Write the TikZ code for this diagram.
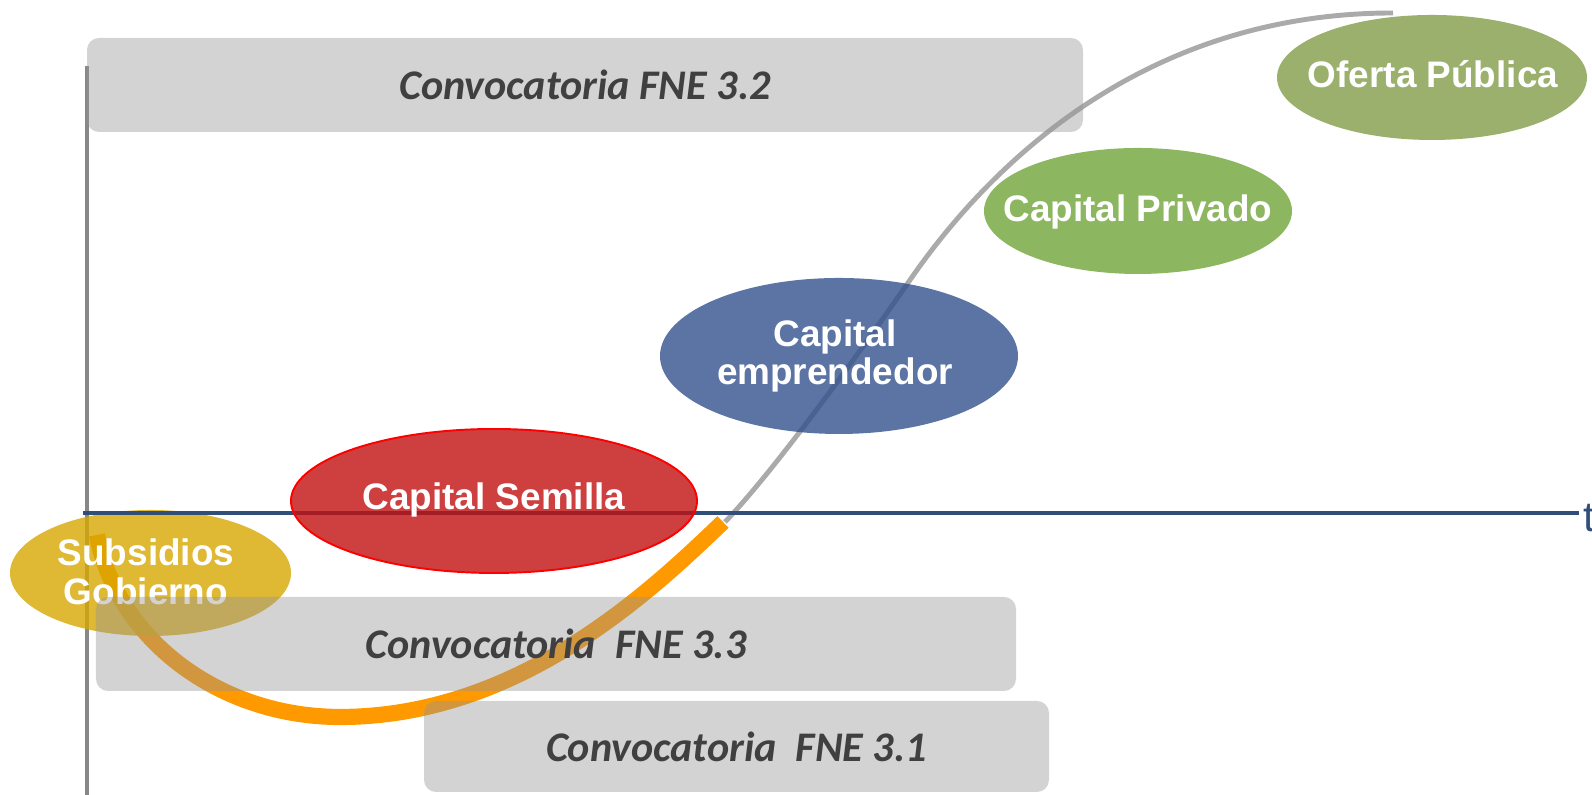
\documentclass[tikz,border=0pt]{standalone}
\usepackage{fontspec}
\usepackage{tikz}
\newfontfamily\arialfont{Liberation Sans}
\newfontfamily\calibrifont{Carlito}
\definecolor{axisblue}{RGB}{47,79,120}
\definecolor{axisgray}{RGB}{136,136,136}
\definecolor{curvegray}{RGB}{170,170,170}
\definecolor{curveorange}{RGB}{255,153,0}
\definecolor{boxgray}{RGB}{150,150,150}
\definecolor{textgray}{RGB}{64,64,64}
\definecolor{gobierno}{RGB}{215,166,1}
\definecolor{semilla}{RGB}{194,16,16}
\definecolor{emprende}{RGB}{50,81,141}
\definecolor{privado}{RGB}{112,164,56}
\definecolor{oferta}{RGB}{130,156,71}
\tikzset{stage/.style = {text = white, font = \arialfont\bfseries\fontsize{10.5}{11}\selectfont, align = center, inner sep = 0}}
\tikzset{bubble/.style = {fill opacity = 0.8}}
\tikzset{call/.style = {rectangle, rounded corners = 0.12cm, fill = boxgray, fill opacity = 0.42, text opacity = 1, text = textgray, font = \calibrifont\bfseries\itshape\fontsize{12}{14}\selectfont, inner sep = 0}}

\begin{document}
\begin{tikzpicture}
    \useasboundingbox (0, 0) rectangle (15.92, 7.95);

    \draw [axisgray, line width = 1.3pt] (0.87, 7.29) -- (0.87, 0);

    \draw [curvegray, line width = 1.4pt] (7.25, 2.73) .. controls (7.75, 3.25) and (8.60, 4.43) .. (9.10, 5.15)
        .. controls (9.95, 6.38) and (11.50, 7.82) .. (13.93, 7.82);
    \draw [curveorange, line width = 4.6pt] (0.97, 2.60) .. controls (1.17, 1.55) and (2.20, 0.78) .. (3.40, 0.78)
        .. controls (5.20, 0.78) and (6.53, 2.06) .. (7.23, 2.73);

    \fill [gobierno, bubble] (1.505, 2.22) ellipse [x radius = 1.405, y radius = 0.63];
    \node [stage] (SG) at (1.46, 2.23) {Subsidios\\Gobierno};

    \draw [axisblue, line width = 1.15pt] (0.83, 2.82) -- (15.79, 2.82);
    \node [anchor = base west, inner sep = 0, text = axisblue, font = \arialfont\fontsize{12}{14}\selectfont] (T) at (15.83, 2.63) {t};

    \filldraw [fill = semilla, draw = red, line width = 0.55pt, bubble] (4.94, 2.94) ellipse [x radius = 2.03, y radius = 0.72];
    \node [stage] (CS) at (4.94, 2.95) {Capital Semilla};

    \fill [emprende, bubble] (8.39, 4.39) ellipse [x radius = 1.79, y radius = 0.78];
    \node [stage] (CE) at (8.35, 4.39) {Capital\\emprendedor};

    \fill [privado, bubble] (11.38, 5.84) ellipse [x radius = 1.54, y radius = 0.63];
    \node [stage] (CP) at (11.38, 5.83) {Capital Privado};

    \fill [oferta, bubble] (14.32, 7.175) ellipse [x radius = 1.55, y radius = 0.625];
    \node [stage] (OP) at (14.33, 7.21) {Oferta Pública};

    \node [call, minimum width = 9.96cm, minimum height = 0.94cm] (F32) at (5.85, 7.10) {Convocatoria FNE 3.2};
    \node [call, minimum width = 9.20cm, minimum height = 0.94cm] (F33) at (5.56, 1.51) {Convocatoria\ \ FNE 3.3};
    \node [call, minimum width = 6.25cm, minimum height = 0.91cm] (F31) at (7.365, 0.485) {Convocatoria\ \ FNE 3.1};
\end{tikzpicture}
\end{document}
